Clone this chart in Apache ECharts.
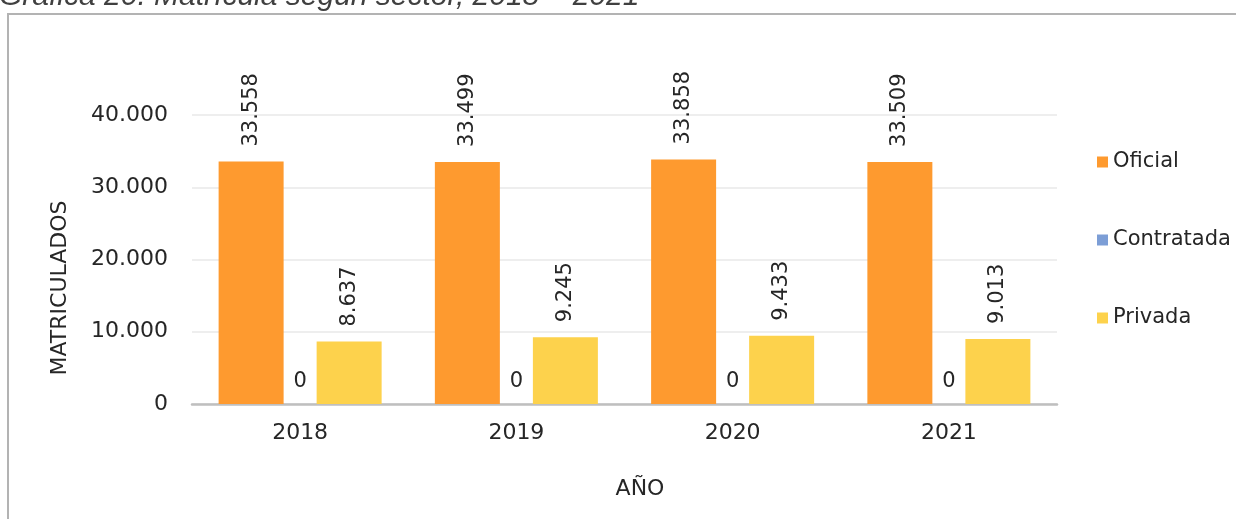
<!DOCTYPE html>
<html>
<head>
<meta charset="utf-8">
<script src="https://cdn.jsdelivr.net/npm/echarts@6/dist/echarts.min.js"></script>
<style>
  html, body { margin: 0; padding: 0; background: #fff; }
  #chart { width: 1236px; height: 519px; }
</style>
</head>
<body>
<div id="chart"></div>
<script>
// datos
var anios = ['2018', '2019', '2020', '2021'];
var oficial = [33558, 33499, 33858, 33509];
var contratada = [0, 0, 0, 0];
var privada = [8637, 9245, 9433, 9013];
var sectores = ['Oficial', 'Contratada', 'Privada'];
var colores = ['#FE9A2F', '#7C9ED6', '#FDD24C'];

var fuente = 'DejaVu Sans';

function miles(v) {
  return String(v).replace(/\B(?=(\d{3})+(?!\d))/g, '.');
}

window.onload = function () {
  var chart = echarts.init(document.getElementById('chart'));

  var etiquetaVertical = {
    show: true,
    position: 'top',
    rotate: 90,
    align: 'left',
    verticalAlign: 'middle',
    distance: 15,
    fontFamily: fuente,
    fontSize: 21,
    color: '#262626',
    formatter: function (p) { return miles(p.value); }
  };

  function serie(nombre, datos, i, etiqueta) {
    return {
      name: nombre,
      type: 'bar',
      data: datos,
      barWidth: 65,
      barGap: '-24.6%',
      itemStyle: { color: colores[i] },
      label: etiqueta
    };
  }

  chart.setOption({
    animation: false,
    backgroundColor: '#fff',
    textStyle: { fontFamily: fuente },
    grid: { left: 192, right: 179, top: 115, bottom: 115 },
    legend: {
      orient: 'vertical',
      left: 1092,
      top: 146,
      data: sectores,
      icon: 'rect',
      itemWidth: 11,
      itemHeight: 11,
      itemGap: 56,
      textStyle: { fontFamily: fuente, fontSize: 21, color: '#262626', lineHeight: 22 }
    },
    xAxis: {
      type: 'category',
      data: anios,
      axisTick: { show: false },
      axisLine: { lineStyle: { color: '#BFBFBF', width: 2.5 } },
      axisLabel: { fontFamily: fuente, fontSize: 22, color: '#262626', margin: 18 }
    },
    yAxis: {
      type: 'value',
      min: 0,
      max: 40000,
      interval: 10000,
      axisLine: { show: false },
      axisTick: { show: false },
      splitLine: { lineStyle: { color: '#E9E9E9', width: 1.5 } },
      axisLabel: {
        fontFamily: fuente, fontSize: 22, color: '#262626', margin: 24,
        formatter: function (v) { return miles(v); }
      }
    },
    graphic: [
      {
        type: 'rect',
        shape: { x: 8, y: 14, width: 1400, height: 700 },
        style: { fill: 'none', stroke: '#B3B3B3', lineWidth: 2 },
        silent: true
      },
      {
        type: 'text',
        x: -1,
        y: -3,
        style: {
          text: 'Gráfica 20. Matrícula según sector, 2018 – 2021',
          font: 'italic 30px "Liberation Sans", Arial, sans-serif',
          fill: '#404040',
          verticalAlign: 'middle'
        }
      },
      {
        type: 'text',
        x: 60,
        y: 288,
        rotation: Math.PI / 2,
        style: {
          text: 'MATRICULADOS',
          font: '22px "DejaVu Sans"',
          fill: '#262626',
          align: 'center',
          verticalAlign: 'middle'
        }
      },
      {
        type: 'text',
        x: 640,
        y: 489,
        style: {
          text: 'AÑO',
          font: '22px "DejaVu Sans"',
          fill: '#262626',
          align: 'center',
          verticalAlign: 'middle'
        }
      }
    ],
    series: [
      serie('Oficial', oficial, 0, etiquetaVertical),
      serie('Contratada', contratada, 1, {
        show: true,
        position: 'top',
        distance: 12,
        fontFamily: fuente,
        fontSize: 21,
        color: '#262626'
      }),
      serie('Privada', privada, 2, etiquetaVertical)
    ]
  });
};
</script>
</body>
</html>
